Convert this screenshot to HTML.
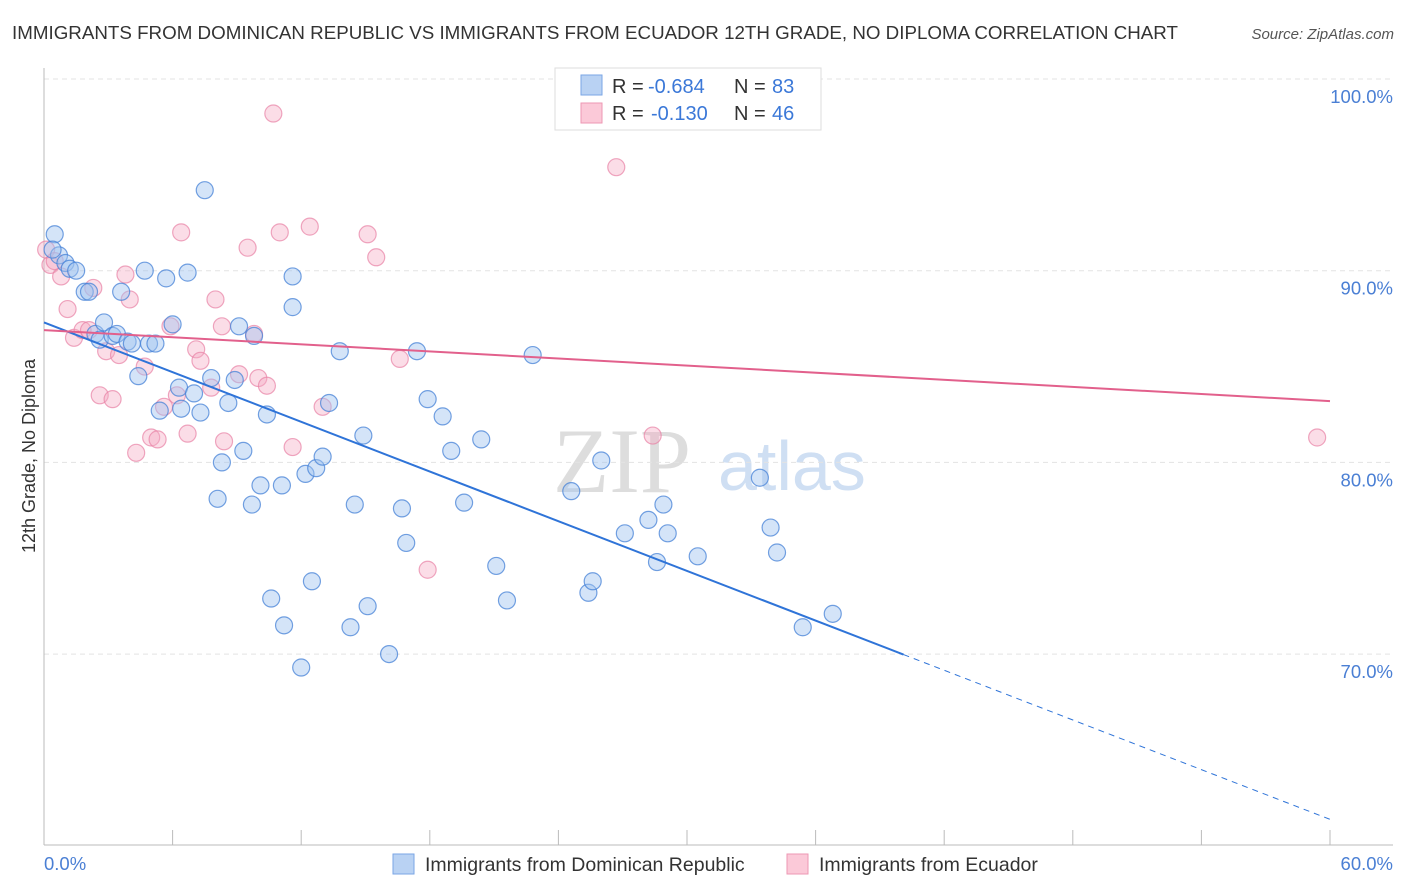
<!DOCTYPE html>
<html><head><meta charset="utf-8"><style>
body{margin:0;background:#fff;font-family:"Liberation Sans",sans-serif;}
svg{display:block}
</style></head><body>
<svg id="chart" width="1406" height="892">
<text x="12" y="39" font-size="18.5" fill="#333" textLength="1166" lengthAdjust="spacingAndGlyphs">IMMIGRANTS FROM DOMINICAN REPUBLIC VS IMMIGRANTS FROM ECUADOR 12TH GRADE, NO DIPLOMA CORRELATION CHART</text>
<text x="1394" y="39" font-size="15" fill="#555" font-style="italic" text-anchor="end">Source: ZipAtlas.com</text>
<g>
<text x="553" y="492" font-size="92" fill="#ddd" font-family="Liberation Serif">ZIP</text>
<text x="718" y="490" font-size="70" fill="#cfdff3">atlas</text>
</g>
<g id="grid"></g>
<g id="axes"></g>
<g id="pts"></g>
<g id="lines"></g>
<text transform="translate(35,456) rotate(-90)" font-size="18" fill="#333" text-anchor="middle">12th Grade, No Diploma</text>
<g>
<rect x="555" y="68" width="266" height="62" fill="#fff" stroke="#ddd"/>
<rect x="581" y="75" width="21" height="20" fill="#b9d2f3" stroke="#7aa6e6"/>
<rect x="581" y="103" width="21" height="20" fill="#fbc9d8" stroke="#ee97b3"/>
<text x="612" y="93" font-size="20" fill="#333">R =</text>
<text x="648" y="93" font-size="20" fill="#3b78d8">-0.684</text>
<text x="734" y="93" font-size="20" fill="#333">N =</text>
<text x="772" y="93" font-size="20" fill="#3b78d8">83</text>
<text x="612" y="120" font-size="20" fill="#333">R =</text>
<text x="651" y="120" font-size="20" fill="#3b78d8">-0.130</text>
<text x="734" y="120" font-size="20" fill="#333">N =</text>
<text x="772" y="120" font-size="20" fill="#3b78d8">46</text>
</g>
<g>
<rect x="393" y="854" width="21" height="20" fill="#b9d2f3" stroke="#7aa6e6"/>
<text x="425" y="871" font-size="19.5" fill="#333">Immigrants from Dominican Republic</text>
<rect x="787" y="854" width="21" height="20" fill="#fbc9d8" stroke="#ee97b3"/>
<text x="819" y="871" font-size="19.5" fill="#333">Immigrants from Ecuador</text>
</g>
</svg>
<script>
const blueX=[0.5,0.7,1.0,1.2,1.5,1.9,2.1,2.4,2.6,2.8,3.2,3.4,3.6,3.9,4.1,4.4,4.7,4.9,5.2,5.4,5.7,6.0,6.3,6.4,6.7,7.0,7.3,7.5,7.8,8.1,8.3,8.6,8.9,9.1,9.3,9.7,9.8,10.1,10.4,10.6,11.1,11.2,11.6,11.6,12.0,12.2,12.5,12.7,13.0,13.3,13.8,14.5,14.9,15.1,14.3,16.1,16.7,16.9,17.4,17.9,18.6,19.0,19.6,20.4,21.1,21.6,22.8,24.6,25.4,25.6,26.0,27.1,28.2,28.6,28.9,29.1,30.5,33.4,33.9,34.2,35.4,36.8,0.4];
const blueY=[91.9,90.8,90.4,90.1,90.0,88.9,88.9,86.7,86.4,87.3,86.6,86.7,88.9,86.3,86.2,84.5,90.0,86.2,86.2,82.7,89.6,87.2,83.9,82.8,89.9,83.6,82.6,94.2,84.4,78.1,80.0,83.1,84.3,87.1,80.6,77.8,86.6,78.8,82.5,72.9,78.8,71.5,89.7,88.1,69.3,79.4,73.8,79.7,80.3,83.1,85.8,77.8,81.4,72.5,71.4,70.0,77.6,75.8,85.8,83.3,82.4,80.6,77.9,81.2,74.6,72.8,85.6,78.5,73.2,73.8,80.1,76.3,77.0,74.8,77.8,76.3,75.1,79.2,76.6,75.3,71.4,72.1,91.1];
const pinkX=[0.1,0.3,0.5,0.8,1.1,1.4,1.8,2.1,2.3,2.6,2.9,3.2,3.5,3.8,4.0,4.3,4.7,5.0,5.3,5.6,5.9,6.2,6.4,6.7,7.1,7.3,7.8,8.0,8.3,8.4,9.1,9.5,9.8,10.0,10.4,10.7,11.0,11.6,12.4,13.0,15.1,15.5,16.6,17.9,26.7,28.4,59.4];
const pinkY=[91.1,90.3,90.5,89.7,88.0,86.5,86.9,86.9,89.1,83.5,85.8,83.3,85.6,89.8,88.5,80.5,85.0,81.3,81.2,82.9,87.1,83.5,92.0,81.5,85.9,85.3,83.9,88.5,87.1,81.1,84.6,91.2,86.7,84.4,84.0,98.2,92.0,80.8,92.3,82.9,91.9,90.7,85.4,74.4,95.4,81.4,81.3];
const yTicks=[100,90,80,70];
const yTickLabels=["100.0%","90.0%","80.0%","70.0%"];
const xTickVals=[6,12,18,24,30,36,42,48,54,60];
const blueTrend=[87.3,-0.432];
const pinkTrend=[86.9,-0.0617];
const blueSolidEnd=40.1;

const NS="http://www.w3.org/2000/svg";
const sx=v=>44+v*(1286/60);
const sy=v=>79+(100-v)*19.17;
function mk(tag,attrs,parent){const e=document.createElementNS(NS,tag);for(const k in attrs)e.setAttribute(k,attrs[k]);document.getElementById(parent).appendChild(e);return e;}

yTicks.forEach((t,i)=>{
  const l=mk('line',{x1:44,x2:1393,y1:sy(t),y2:sy(t),stroke:'#e3e3e3','stroke-dasharray':'5,4'},'grid');
  
  
  const tx=mk('text',{x:1393,y:sy(t)+24,'font-size':18.5,fill:'#4a7fd4','text-anchor':'end'},'grid');
  tx.textContent=yTickLabels[i];
  
  
});
let a=mk('line',{x1:44,x2:44,y1:68,y2:845,stroke:'#bbb'},'axes');


a=mk('line',{x1:44,x2:1393,y1:845,y2:845,stroke:'#bbb'},'axes');


xTickVals.forEach(v=>{const t=mk('line',{x1:sx(v),x2:sx(v),y1:830,y2:845,stroke:'#bbb'},'axes');
  
  });
let xl=mk('text',{x:44,y:870,'font-size':18.5,fill:'#4a7fd4'},'axes');xl.textContent='0.0%';


xl=mk('text',{x:1393,y:870,'font-size':18.5,fill:'#4a7fd4','text-anchor':'end'},'axes');xl.textContent='60.0%';



pinkX.forEach((x,i)=>{const c=mk('circle',{cx:sx(x),cy:sy(pinkY[i]),r:8.5,fill:'rgba(246,170,195,0.4)',stroke:'rgba(232,130,165,0.7)','stroke-width':1.2},'pts');
  
  });
blueX.forEach((x,i)=>{const c=mk('circle',{cx:sx(x),cy:sy(blueY[i]),r:8.5,fill:'rgba(160,195,240,0.45)',stroke:'rgba(70,130,215,0.75)','stroke-width':1.2},'pts');
  
  });

const by=x=>blueTrend[0]+blueTrend[1]*x, py=x=>pinkTrend[0]+pinkTrend[1]*x;
let ln=mk('line',{x1:sx(0),y1:sy(by(0)),x2:sx(blueSolidEnd),y2:sy(by(blueSolidEnd)),stroke:'#2f74d8','stroke-width':2},'lines');


ln=mk('line',{x1:sx(blueSolidEnd),y1:sy(by(blueSolidEnd)),x2:sx(60),y2:sy(by(60)),stroke:'#2f74d8','stroke-width':1,'stroke-dasharray':'6,5'},'lines');


ln=mk('line',{x1:sx(0),y1:sy(py(0)),x2:sx(60),y2:sy(py(60)),stroke:'#e2608c','stroke-width':2},'lines');


</script>
</body></html>
